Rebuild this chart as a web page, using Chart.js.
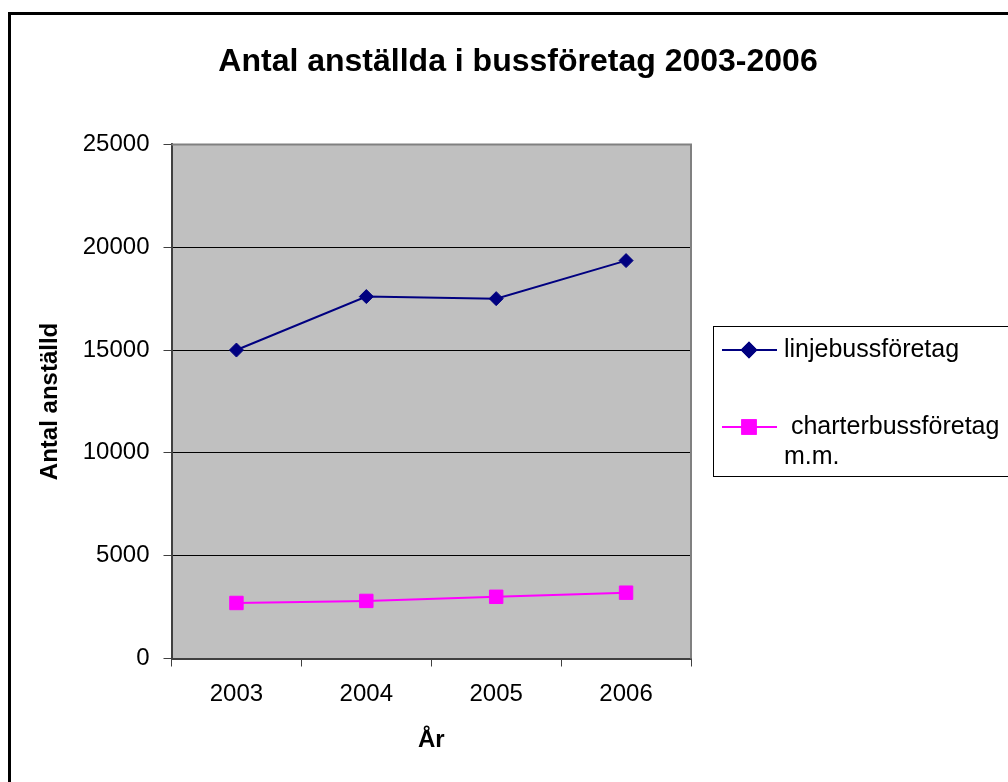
<!DOCTYPE html>
<html>
<head>
<meta charset="utf-8">
<script src="https://cdn.jsdelivr.net/npm/chart.js@4/dist/chart.umd.min.js"></script>
<style>
  html, body { margin: 0; padding: 0; background: #ffffff; }
  #wrap { width: 1008px; height: 782px; }
</style>
</head>
<body>
<div id="wrap"><canvas id="c" width="1008" height="782"></canvas></div>
<script>
// ---- data ----
const years = ['2003', '2004', '2005', '2006'];
const linjebuss = [15000, 17600, 17500, 19350];
const charterbuss = [2700, 2800, 3000, 3200];
const seriesNames = ['linjebussföretag', ' charterbussföretag m.m.'];
const yTickValues = [0, 5000, 10000, 15000, 20000, 25000];
const chartTitle = 'Antal anställda i bussföretag 2003-2006';
const yTitle = 'Antal anställd';
const xTitle = 'År';

const FONT = 'Arial, "Liberation Sans", sans-serif';

const bgPlugin = {
  id: 'bgPlugin',
  beforeDraw(chart) {
    const ctx = chart.ctx, a = chart.chartArea;
    ctx.save();
    ctx.fillStyle = '#ffffff';
    ctx.fillRect(0, 0, chart.width, chart.height);
    ctx.fillStyle = '#c0c0c0';
    ctx.fillRect(a.left, a.top, a.right - a.left, a.bottom - a.top);
    ctx.strokeStyle = '#000000';
    ctx.lineWidth = 3;
    ctx.strokeRect(9.5, 13.5, 1020, 800);
    ctx.restore();
  },
  afterDatasetsDraw(chart) {
    const ctx = chart.ctx, a = chart.chartArea;
    ctx.save();
    ctx.strokeStyle = '#808080';
    ctx.lineWidth = 2;
    ctx.beginPath();
    ctx.moveTo(a.left, a.top);
    ctx.lineTo(a.right, a.top);
    ctx.lineTo(a.right, a.bottom);
    ctx.stroke();
    ctx.restore();
  }
};

// word wrap that keeps a leading space
function wrapText(ctx, text, maxW) {
  const lead = text.match(/^\s*/)[0];
  const words = text.trim().split(' ');
  const lines = [];
  let cur = lead + words[0];
  for (let i = 1; i < words.length; i++) {
    const test = cur + ' ' + words[i];
    if (ctx.measureText(test).width > maxW) {
      lines.push(cur);
      cur = words[i];
    } else {
      cur = test;
    }
  }
  lines.push(cur);
  return lines;
}

const legendPlugin = {
  id: 'boxLegend',
  afterDraw(chart) {
    const ctx = chart.ctx;
    const bx = 713, by = 326, bw = 320, bh = 150;
    ctx.save();
    ctx.strokeStyle = '#000000';
    ctx.lineWidth = 1;
    ctx.strokeRect(bx + 0.5, by + 0.5, bw, bh);
    ctx.font = '25px ' + FONT;
    ctx.textBaseline = 'middle';
    ctx.textAlign = 'left';
    const itemY = [350, 427];
    chart.data.datasets.forEach((ds, i) => {
      const y = itemY[i];
      ctx.strokeStyle = ds.borderColor;
      ctx.lineWidth = 2;
      ctx.beginPath();
      ctx.moveTo(722, y);
      ctx.lineTo(777, y);
      ctx.stroke();
      Chart.helpers.drawPoint(ctx, {
        pointStyle: ds.pointStyle,
        radius: ds.pointRadius,
        borderWidth: 1
      }, 749, y);
      ctx.fillStyle = ds.pointBackgroundColor;
      ctx.strokeStyle = ds.pointBorderColor;
      ctx.fill();
      ctx.stroke();
      ctx.fillStyle = '#000000';
      const lines = wrapText(ctx, ds.label, 1006 - 784);
      lines.forEach((ln, k) => ctx.fillText(ln, 784, y + k * 30));
    });
    ctx.restore();
  }
};

new Chart(document.getElementById('c'), {
  type: 'line',
  data: {
    labels: years,
    datasets: [
      {
        label: seriesNames[0],
        data: linjebuss,
        borderColor: '#000080',
        backgroundColor: '#000080',
        pointBackgroundColor: '#000080',
        pointBorderColor: '#000080',
        borderWidth: 2,
        pointStyle: 'rectRot',
        pointRadius: 7,
        pointBorderWidth: 1,
        tension: 0
      },
      {
        label: seriesNames[1],
        data: charterbuss,
        borderColor: '#ff00ff',
        backgroundColor: '#ff00ff',
        pointBackgroundColor: '#ff00ff',
        pointBorderColor: '#ff00ff',
        borderWidth: 2,
        pointStyle: 'rect',
        pointRadius: 9.5,
        pointBorderWidth: 1,
        tension: 0
      }
    ]
  },
  options: {
    responsive: false,
    animation: false,
    events: [],
    layout: { padding: { left: 28, right: 0, top: 0, bottom: 0 } },
    plugins: {
      legend: { display: false },
      tooltip: { enabled: false },
      title: {
        display: true,
        text: chartTitle,
        color: '#000000',
        font: { family: FONT, size: 32, weight: 'bold' },
        padding: { top: 43, bottom: 63 }
      }
    },
    scales: {
      x: {
        type: 'category',
        offset: true,
        grid: {
          offset: true,
          drawOnChartArea: false,
          drawTicks: true,
          tickLength: 8,
          color: '#404040',
          lineWidth: 1
        },
        border: { display: true, color: '#404040', width: 2 },
        ticks: {
          color: '#000000',
          font: { family: FONT, size: 24 },
          padding: 13,
          maxRotation: 0,
          autoSkip: false
        },
        title: {
          display: true,
          text: xTitle,
          color: '#000000',
          font: { family: FONT, size: 24, weight: 'bold' },
          padding: { top: 0, bottom: 27 }
        },
        afterFit(s) { s.height = 123.5; }
      },
      y: {
        min: 0,
        max: 25000,
        afterBuildTicks(s) { s.ticks = yTickValues.map(v => ({ value: v })); },
        grid: {
          drawTicks: true,
          tickLength: 8,
          color: (c) => (c.tick && c.tick.value === 25000 ? '#808080' : '#000000'),
          tickColor: '#404040',
          lineWidth: 1
        },
        border: { display: true, color: '#404040', width: 2 },
        ticks: {
          color: '#000000',
          font: { family: FONT, size: 24 },
          padding: 14,
          callback: (v) => String(v)
        },
        title: {
          display: true,
          text: yTitle,
          color: '#000000',
          font: { family: FONT, size: 24, weight: 'bold' },
          padding: { top: 8, bottom: 0 }
        },
        afterFit(s) { s.width = 143.5; }
      },
      spacer: {
        type: 'linear',
        position: 'right',
        display: true,
        grid: { display: false, drawTicks: false },
        border: { display: false },
        ticks: { display: false },
        afterFit(s) { s.width = 317; }
      }
    }
  },
  plugins: [bgPlugin, legendPlugin]
});
</script>
</body>
</html>
